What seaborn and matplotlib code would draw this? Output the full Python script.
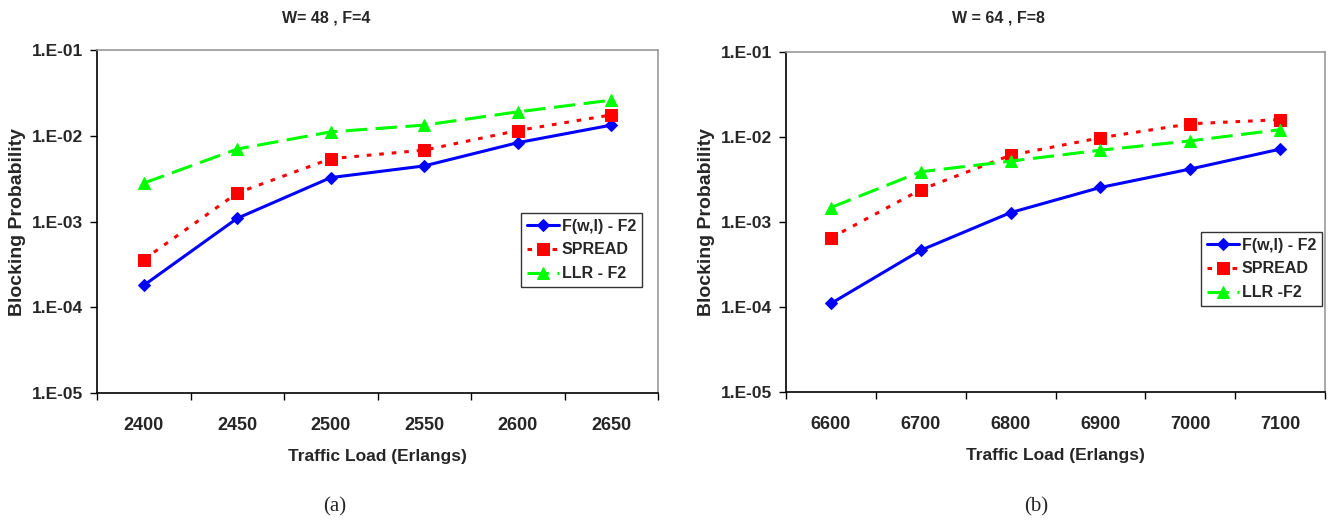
import numpy as np
import pandas as pd
import matplotlib
matplotlib.use("Agg")
import matplotlib.pyplot as plt
from matplotlib.ticker import FixedLocator, NullLocator, FixedFormatter, NullFormatter
import seaborn as sns

# ---- data ----
loads_a = ["2400", "2450", "2500", "2550", "2600", "2650"]
fwl_a = [1.8e-4, 1.09e-3, 3.25e-3, 4.45e-3, 8.3e-3, 1.33e-2]
spread_a = [3.6e-4, 2.15e-3, 5.4e-3, 6.8e-3, 1.15e-2, 1.75e-2]
llr_a = [2.8e-3, 7.0e-3, 1.11e-2, 1.33e-2, 1.9e-2, 2.6e-2]

loads_b = ["6600", "6700", "6800", "6900", "7000", "7100"]
fwl_b = [1.1e-4, 4.65e-4, 1.29e-3, 2.55e-3, 4.2e-3, 7.2e-3]
spread_b = [6.5e-4, 2.4e-3, 6.1e-3, 9.8e-3, 1.43e-2, 1.6e-2]
llr_b = [1.48e-3, 3.9e-3, 5.2e-3, 7.0e-3, 9.0e-3, 1.22e-2]

titles = ["W= 48 , F=4", "W = 64 , F=8"]
labels_a = ["F(w,l) - F2", "SPREAD", "LLR - F2"]
labels_b = ["F(w,l) - F2", "SPREAD", "LLR -F2"]
ytick_vals = [1e-5, 1e-4, 1e-3, 1e-2, 1e-1]
ytick_labels = ["1.E-05", "1.E-04", "1.E-03", "1.E-02", "1.E-01"]

sns.set_style("white")
plt.rcParams["font.family"] = ["Liberation Sans", "DejaVu Sans"]
plt.rcParams["font.weight"] = "bold"

W, H = 1330, 527
fig = plt.figure(figsize=(W / 100, H / 100), dpi=100)

styles = [
    dict(color="#0000FF", marker="D", markersize=6.5, linestyle="-"),
    dict(color="#FF0000", marker="s", markersize=8, linestyle=(0, (1.5, 2.6))),
    dict(color="#00FF00", marker="^", markersize=8.5, linestyle=(0, (7, 2.8))),
]


def px_box(x0, x1, ytop, ybot):
    return [x0 / W, 1 - ybot / H, (x1 - x0) / W, (ybot - ytop) / H]


panels = [
    dict(box=px_box(97, 658, 50, 393), loads=loads_a, series=[fwl_a, spread_a, llr_a],
         labels=labels_a, leg=(521, 213), title_x=326, sub="(a)", sub_x=335),
    dict(box=px_box(786, 1325, 52, 392), loads=loads_b, series=[fwl_b, spread_b, llr_b],
         labels=labels_b, leg=(1201, 232), title_x=998, sub="(b)", sub_x=1036),
]

for i, p in enumerate(panels):
    ax = fig.add_axes(p["box"])
    rows = []
    for name, vals in zip(p["labels"], p["series"]):
        for j, (ld, v) in enumerate(zip(p["loads"], vals)):
            rows.append(dict(series=name, idx=j, load=ld, prob=v))
    df = pd.DataFrame(rows)
    for name, st in zip(p["labels"], styles):
        sub = df[df["series"] == name]
        sns.lineplot(data=sub, x="idx", y="prob", ax=ax, color=st["color"],
                     marker=st["marker"], markersize=st["markersize"],
                     markeredgecolor=st["color"], markerfacecolor=st["color"],
                     linewidth=2.2, linestyle=st["linestyle"], label=name,
                     errorbar=None, sort=False)
    ax.set_yscale("log")
    ax.set_ylim(1e-5, 1e-1)
    n = len(p["loads"])
    ax.set_xlim(-0.5, n - 0.5)
    ax.yaxis.set_major_locator(FixedLocator(ytick_vals))
    ax.yaxis.set_major_formatter(FixedFormatter(ytick_labels))
    ax.yaxis.set_minor_locator(NullLocator())
    ax.xaxis.set_major_locator(FixedLocator(list(range(n))))
    ax.xaxis.set_major_formatter(FixedFormatter(p["loads"]))
    ax.xaxis.set_minor_locator(FixedLocator([k - 0.5 for k in range(n + 1)]))
    ax.xaxis.set_minor_formatter(NullFormatter())
    ax.tick_params(axis="x", which="major", length=0, pad=17, labelsize=13)
    ax.tick_params(axis="x", which="minor", length=5, width=1, direction="out",
                   color="black", bottom=True)
    ax.tick_params(axis="y", which="major", length=5, width=1, direction="out",
                   color="black", left=True, pad=5, labelsize=12.5)
    for lab in ax.get_xticklabels() + ax.get_yticklabels():
        lab.set_fontweight("bold")
    ax.set_xlabel("Traffic Load (Erlangs)", fontsize=12.5, fontweight="bold", labelpad=11)
    ax.set_ylabel("Blocking Probability", fontsize=14, fontweight="bold", labelpad=4)
    for side in ["left", "bottom"]:
        ax.spines[side].set_color("black")
        ax.spines[side].set_linewidth(1.2)
    for side in ["top", "right"]:
        ax.spines[side].set_color("#999999")
        ax.spines[side].set_linewidth(1.2)
    ax.grid(False)
    lx, ly = p["leg"]
    leg = ax.legend(loc="upper left", bbox_to_anchor=(lx / W, 1 - ly / H),
                    bbox_transform=fig.transFigure, borderaxespad=0, fancybox=False,
                    frameon=True, edgecolor="#333333",
                    prop=dict(weight="bold", size=11.5), handlelength=2.0,
                    handletextpad=0.2, labelspacing=0.55, borderpad=0.35, framealpha=1)
    leg.get_frame().set_linewidth(1.0)
    fig.text(p["title_x"] / W, 1 - 18 / H, titles[i], ha="center", va="center",
             fontsize=11.5, fontweight="bold")
    fig.text(p["sub_x"] / W, 1 - 507 / H, p["sub"], ha="center", va="center",
             fontsize=15, family="Liberation Serif", fontweight="normal")

fig.savefig("out.png", dpi=100)
